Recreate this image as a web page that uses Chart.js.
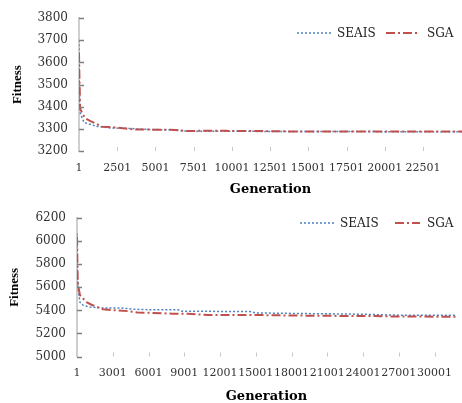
<!DOCTYPE html>
<html>
<head>
<meta charset="utf-8">
<script src="https://cdn.jsdelivr.net/npm/chart.js@4"></script>
<style>
  html, body { margin: 0; padding: 0; background: #fff; }
  .box { position: relative; width: 462px; }
</style>
</head>
<body>
<div class="box" style="height:200px"><canvas id="topChart"></canvas></div>
<div class="box" style="height:203px"><canvas id="bottomChart"></canvas></div>
<script>
// series names
const seriesNames = ['SEAIS', 'SGA'];

// upper chart (25000 generations)
const topSeaisGen = [1, 10, 25, 50, 100, 200, 330, 650, 1200, 2100, 3300, 4600, 6300, 6900, 10000, 14500, 25050];
const topSeaisFit = [3700, 3600, 3480, 3400, 3365, 3351, 3329, 3322, 3311, 3304, 3302, 3297, 3296, 3290, 3289, 3288, 3287];
const topSgaGen = [1, 15, 35, 55, 70, 90, 260, 390, 720, 1100, 1500, 2200, 3600, 6000, 6500, 7000, 8500, 9600, 12000, 14500, 25050];
const topSgaFit = [3644, 3590, 3512, 3455, 3400, 3389, 3365, 3349, 3336, 3324, 3310, 3308, 3297, 3296, 3294, 3290, 3292, 3291, 3290, 3288, 3288];
const topXTicks = [1, 2501, 5001, 7501, 10001, 12501, 15001, 17501, 20001, 22501];

// lower chart (about 31800 generations)
const botSeaisGen = [1, 15, 40, 80, 116, 248, 529, 1075, 2043, 3700, 4772, 6000, 8500, 8800, 14500, 15000, 18800, 23800, 26700, 31800];
const botSeaisFit = [6068, 5900, 5700, 5600, 5568, 5471, 5443, 5429, 5421, 5421, 5410, 5406, 5405, 5392, 5391, 5378, 5373, 5367, 5359, 5357];
const botSgaGen = [1, 20, 40, 60, 90, 248, 802, 1216, 2183, 3143, 4358, 5078, 8000, 9300, 11000, 15100, 17600, 18800, 20500, 25000, 26700, 31800];
const botSgaFit = [6040, 5929, 5777, 5665, 5623, 5532, 5471, 5449, 5410, 5401, 5393, 5382, 5372, 5370, 5361, 5360, 5356, 5355, 5353, 5351, 5347, 5345];
const botXTicks = [1, 3001, 6001, 9001, 12001, 15001, 18001, 21001, 24001, 27001, 30001];

const BLUE = '#4f81bd';
const RED = '#c0504d';
const SERIF = "'DejaVu Serif', serif";

function pts(gen, fit) {
  return gen.map((g, i) => ({ x: g, y: fit[i] }));
}

// inner tick marks + hand drawn legend, like the Excel original
const excelBits = {
  id: 'excelBits',
  afterDraw(chart, args, opts) {
    const ctx = chart.ctx;
    const xs = chart.scales.x, ys = chart.scales.y;
    const area = chart.chartArea;
    ctx.save();
    ctx.strokeStyle = '#7f7f7f';
    ctx.lineWidth = 1.5;
    ys.ticks.forEach(t => {
      const y = Math.round(ys.getPixelForValue(t.value)) + 0.5;
      ctx.beginPath();
      ctx.moveTo(area.left, y);
      ctx.lineTo(area.left + 5, y);
      ctx.stroke();
    });
    ctx.strokeStyle = '#c8c8c8';
    ctx.lineWidth = 1;
    xs.ticks.forEach(t => {
      if (t.value <= xs.min) return;
      const x = Math.round(xs.getPixelForValue(t.value)) + 0.5;
      ctx.beginPath();
      ctx.moveTo(x, area.bottom - 4);
      ctx.lineTo(x, area.bottom);
      ctx.stroke();
    });
    // legend
    ctx.font = '12px ' + SERIF;
    ctx.textBaseline = 'middle';
    ctx.fillStyle = '#222';
    chart.data.datasets.forEach((ds, i) => {
      const it = opts.items[i];
      ctx.strokeStyle = ds.borderColor;
      ctx.lineWidth = ds.borderWidth;
      ctx.setLineDash(ds.borderDash || []);
      ctx.beginPath();
      ctx.moveTo(it.x0, opts.y);
      ctx.lineTo(it.x1, opts.y);
      ctx.stroke();
      ctx.setLineDash([]);
      ctx.fillText(ds.label, it.tx, opts.y + 1);
    });
    ctx.restore();
  }
};

function makeChart(id, cfg) {
  new Chart(document.getElementById(id), {
    type: 'line',
    data: {
      datasets: [
        { label: seriesNames[0], data: pts(cfg.seaisGen, cfg.seaisFit), borderColor: BLUE,
          borderWidth: 1.5, borderDash: [2, 2], pointRadius: 0, tension: 0, order: 1 },
        { label: seriesNames[1], data: pts(cfg.sgaGen, cfg.sgaFit), borderColor: RED,
          borderWidth: 2, borderDash: [9, 3, 2, 3], pointRadius: 0, tension: 0, order: 0 }
      ]
    },
    options: {
      responsive: true,
      maintainAspectRatio: false,
      animation: false,
      layout: { padding: { top: cfg.padTop, right: 0, bottom: 0, left: 0 } },
      plugins: {
        legend: { display: false },
        tooltip: { enabled: false },
        excelBits: cfg.legend
      },
      scales: {
        x: {
          type: 'linear',
          min: 1,
          max: cfg.xMax,
          afterBuildTicks: s => { s.ticks = cfg.xTicks.map(v => ({ value: v })); },
          afterFit: s => { s.height = cfg.xHeight; },
          grid: { display: false, drawTicks: false },
          border: { display: false },
          ticks: {
            autoSkip: false, maxRotation: 0, padding: cfg.xPad,
            color: '#333', font: { family: SERIF, size: 11 },
            callback: v => String(v)
          },
          title: {
            display: true, text: 'Generation', color: '#000',
            font: { family: SERIF, size: 13, weight: 'bold', lineHeight: 1 },
            padding: { top: 0, bottom: cfg.xTitlePad }
          }
        },
        y: {
          min: cfg.yMin,
          max: cfg.yMax,
          afterFit: s => { s.width = cfg.yWidth; },
          grid: { display: false, drawTicks: false },
          border: { display: true, color: '#cfcfcf', width: 2 },
          ticks: {
            stepSize: cfg.yStep, padding: 11,
            color: '#333', font: { family: SERIF, size: 12 },
            callback: v => String(v)
          },
          title: {
            display: true, text: 'Fitness', color: '#000',
            font: { family: "'Liberation Serif', serif", size: 13, weight: 'bold', lineHeight: 1 },
            padding: { top: cfg.yTitlePad, bottom: 0 }
          }
        }
      }
    },
    plugins: [excelBits]
  });
}

makeChart('topChart', {
  seaisGen: topSeaisGen, seaisFit: topSeaisFit, sgaGen: topSgaGen, sgaFit: topSgaFit,
  xTicks: topXTicks, xMax: 25050, yMin: 3200, yMax: 3800, yStep: 100,
  padTop: 15, xHeight: 49, yWidth: 79, xPad: 11, xTitlePad: 3.5, yTitlePad: 11.5,
  legend: { y: 33, items: [{ x0: 297, x1: 332, tx: 337 }, { x0: 386, x1: 419, tx: 427 }] }
});

makeChart('bottomChart', {
  seaisGen: botSeaisGen, seaisFit: botSeaisFit, sgaGen: botSgaGen, sgaFit: botSgaFit,
  xTicks: botXTicks, xMax: 31800, yMin: 5000, yMax: 6200, yStep: 200,
  padTop: 12, xHeight: 46.5, yWidth: 77, xPad: 10, xTitlePad: 0, yTitlePad: 8.5,
  legend: { y: 23, items: [{ x0: 300, x1: 335, tx: 340 }, { x0: 395, x1: 420, tx: 427 }] }
});
</script>
</body>
</html>
